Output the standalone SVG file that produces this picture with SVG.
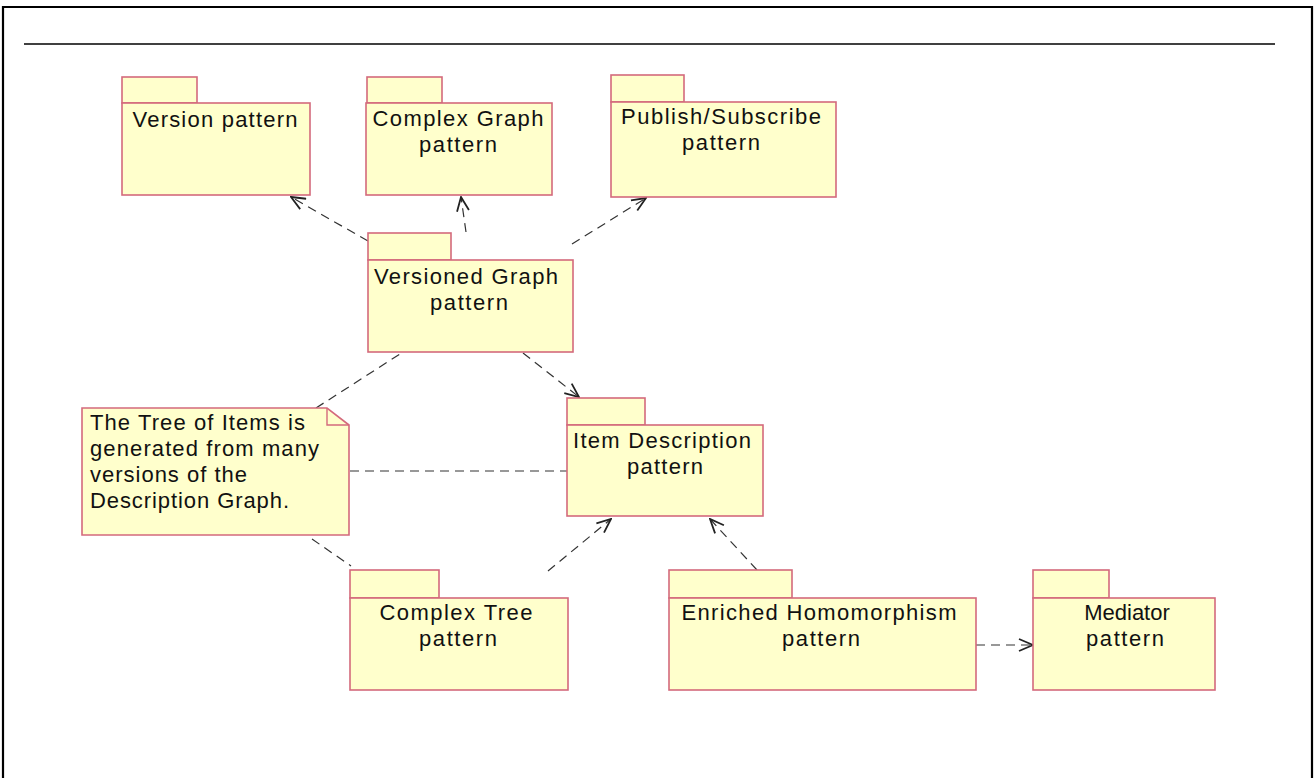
<svg xmlns="http://www.w3.org/2000/svg" width="1316" height="778" viewBox="0 0 1316 778">
<defs>
<style>
.pk{fill:#ffffcc;stroke:#d46a7c;stroke-width:1.6}
.t{font-family:"Liberation Sans",Arial,sans-serif;font-size:22px;fill:#111;text-anchor:middle}
.nt{font-family:"Liberation Sans",Arial,sans-serif;font-size:22px;fill:#111}
.c{fill:none;stroke:#333;stroke-width:1.2;stroke-dasharray:9 6}
</style>
<marker id="ah" markerUnits="userSpaceOnUse" viewBox="0 0 16 14" refX="15" refY="7" markerWidth="16" markerHeight="14" orient="auto">
<path d="M1,1 L15,7 L1,13" fill="none" stroke="#222" stroke-width="1.8"/>
</marker>
</defs>
<rect width="1316" height="778" fill="#fff"/>
<path d="M3,790 V7 H1312 V790" fill="none" stroke="#000" stroke-width="2.2"/>
<line x1="24" y1="44" x2="1275" y2="44" stroke="#000" stroke-width="1.5"/>

<g id="connectors">
<line class="c" x1="368" y1="241" x2="291" y2="197" marker-end="url(#ah)"/>
<line class="c" x1="466" y1="232" x2="461" y2="197" marker-end="url(#ah)"/>
<line class="c" x1="572" y1="244" x2="646" y2="198" marker-end="url(#ah)"/>
<line class="c" x1="523" y1="353" x2="579" y2="397" marker-end="url(#ah)"/>
<line class="c" x1="316" y1="408" x2="403" y2="352"/>
<line class="c" x1="350" y1="471" x2="567" y2="471"/>
<line class="c" x1="312" y1="539" x2="351" y2="566"/>
<line class="c" x1="548" y1="571" x2="611" y2="519" marker-end="url(#ah)"/>
<line class="c" x1="757" y1="570" x2="710" y2="519" marker-end="url(#ah)"/>
<line class="c" x1="976" y1="645" x2="1033" y2="645" marker-end="url(#ah)"/>
</g>

<g id="version">
<rect class="pk" x="122" y="77" width="75" height="26"/>
<rect class="pk" x="122" y="103" width="188" height="92"/>
<text class="t" x="215" y="127" textLength="165" lengthAdjust="spacing">Version pattern</text>
</g>

<g id="complexgraph">
<rect class="pk" x="367" y="77" width="75" height="26"/>
<rect class="pk" x="366" y="103" width="186" height="92"/>
<text class="t" x="458" y="126" textLength="171" lengthAdjust="spacing">Complex Graph</text>
<text class="t" x="458" y="152" textLength="78" lengthAdjust="spacing">pattern</text>
</g>

<g id="pubsub">
<rect class="pk" x="611" y="75" width="73" height="27"/>
<rect class="pk" x="611" y="102" width="225" height="95"/>
<text class="t" x="721" y="124" textLength="200" lengthAdjust="spacing">Publish/Subscribe</text>
<text class="t" x="721" y="150" textLength="78" lengthAdjust="spacing">pattern</text>
</g>

<g id="versionedgraph">
<rect class="pk" x="368" y="233" width="83" height="27"/>
<rect class="pk" x="368" y="260" width="205" height="92"/>
<text class="t" x="466" y="284" textLength="184" lengthAdjust="spacing">Versioned Graph</text>
<text class="t" x="469" y="310" textLength="78" lengthAdjust="spacing">pattern</text>
</g>

<g id="itemdescription">
<rect class="pk" x="567" y="398" width="78" height="27"/>
<rect class="pk" x="567" y="425" width="196" height="91"/>
<text class="t" x="662" y="448" textLength="178" lengthAdjust="spacing">Item Description</text>
<text class="t" x="665" y="474" textLength="76" lengthAdjust="spacing">pattern</text>
</g>

<g id="note">
<path class="pk" d="M82,408 H327 L349,425 V535 H82 Z"/>
<path d="M327,408 V425 H349" fill="none" stroke="#d46a7c" stroke-width="1.4"/>
<text class="nt" x="90" y="430" textLength="215" lengthAdjust="spacing">The Tree of Items is</text>
<text class="nt" x="90" y="456" textLength="229" lengthAdjust="spacing">generated from many</text>
<text class="nt" x="90" y="482" textLength="157" lengthAdjust="spacing">versions of the</text>
<text class="nt" x="90" y="508" textLength="199" lengthAdjust="spacing">Description Graph.</text>
</g>

<g id="complextree">
<rect class="pk" x="350" y="570" width="89" height="28"/>
<rect class="pk" x="350" y="598" width="218" height="92"/>
<text class="t" x="456" y="620" textLength="153" lengthAdjust="spacing">Complex Tree</text>
<text class="t" x="458" y="646" textLength="78" lengthAdjust="spacing">pattern</text>
</g>

<g id="enriched">
<rect class="pk" x="669" y="570" width="123" height="28"/>
<rect class="pk" x="669" y="598" width="307" height="92"/>
<text class="t" x="819" y="620" textLength="275" lengthAdjust="spacing">Enriched Homomorphism</text>
<text class="t" x="821" y="646" textLength="78" lengthAdjust="spacing">pattern</text>
</g>

<g id="mediator">
<rect class="pk" x="1033" y="570" width="76" height="28"/>
<rect class="pk" x="1033" y="598" width="182" height="92"/>
<text class="t" x="1127" y="620">Mediator</text>
<text class="t" x="1125" y="646" textLength="78" lengthAdjust="spacing">pattern</text>
</g>
</svg>
